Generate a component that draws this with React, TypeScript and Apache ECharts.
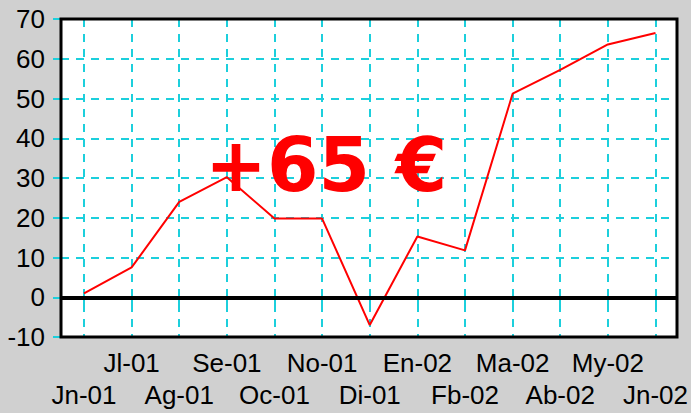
import React, { useEffect, useRef } from "react";
import * as echarts from "echarts";

const months = ["Jn-01", "Jl-01", "Ag-01", "Se-01", "Oc-01", "No-01", "Di-01", "En-02", "Fb-02", "Ma-02", "Ab-02", "My-02", "Jn-02"];
const values = [1, 7.5, 24, 30.2, 19.8, 19.8, -7, 15.3, 11.8, 51.2, 57.2, 63.6, 66.5];
const yMin = -10;
const yMax = 70;
const yStep = 10;
const bigLabel = "+65 €";

const CYAN = "#1ccfdc";

export default function App() {
  const ref = useRef<HTMLDivElement>(null);
  useEffect(() => {
    if (!ref.current) return;
    const chart = echarts.init(ref.current, null, { renderer: "svg" });
    const grid0 = { left: 61, top: 19, width: 616, height: 318 };
    const grid1 = { left: 84, top: 19, width: 573, height: 318 };
    chart.setOption({
      animation: false,
      backgroundColor: "#d0d0d0",
      grid: [
        { ...grid0, show: true, backgroundColor: "#ffffff", borderWidth: 0, z: 0 },
        { ...grid1, show: false },
      ],
      xAxis: [
        { type: "value", gridIndex: 0, min: 0, max: 1, show: false },
        {
          type: "category",
          gridIndex: 1,
          data: months,
          boundaryGap: false,
          axisLine: { show: false },
          axisTick: { show: true, length: 8, alignWithLabel: true, lineStyle: { color: CYAN, width: 2 } },
          splitLine: { show: true, lineStyle: { color: CYAN, width: 2, type: [8, 7] } },
          axisLabel: {
            interval: 0,
            margin: 10,
            color: "#000",
            fontFamily: "Liberation Sans",
            fontSize: 26,
            lineHeight: 32,
            formatter: (v: string, i: number) => (i % 2 === 1 ? v : "\n" + v),
          },
        },
      ],
      yAxis: [
        {
          type: "value",
          gridIndex: 0,
          min: yMin,
          max: yMax,
          interval: yStep,
          axisLine: { show: false },
          axisTick: { show: true, length: 8, lineStyle: { color: CYAN, width: 2 } },
          splitLine: { show: true, showMinLine: false, showMaxLine: false, lineStyle: { color: CYAN, width: 2, type: [8, 7] } },
          axisLabel: { color: "#000", fontFamily: "Liberation Sans", fontSize: 26, margin: 16 },
        },
        { type: "value", gridIndex: 1, min: yMin, max: yMax, interval: yStep, show: false, splitLine: { show: false } },
      ],
      series: [
        {
          type: "line",
          xAxisIndex: 1,
          yAxisIndex: 1,
          data: values,
          symbol: "none",
          lineStyle: { color: "#ff0000", width: 2 },
          z: 3,
        },
        {
          type: "line",
          xAxisIndex: 0,
          yAxisIndex: 0,
          data: [],
          z: 5,
          markLine: {
            silent: true,
            symbol: "none",
            label: { show: false },
            lineStyle: { color: "#000", width: 4, type: "solid" },
            data: [{ yAxis: 0 }],
            z: 5,
          },
        },
      ],
      graphic: [
        {
          type: "rect",
          z: 8,
          silent: true,
          shape: { x: grid0.left, y: grid0.top, width: grid0.width, height: grid0.height },
          style: { fill: "none", stroke: "#000", lineWidth: 3 },
        },
        {
          type: "text",
          left: 205,
          top: 128,
          z: 10,
          style: {
            text: bigLabel,
            fill: "#ff0000",
            font: "bold 74px 'DejaVu Sans'",
          },
        },
      ],
    });
    return () => chart.dispose();
  }, []);
  return (
    <div
      ref={ref}
      style={{ position: "absolute", left: 0, top: 0, width: 691, height: 413 }}
    />
  );
}
